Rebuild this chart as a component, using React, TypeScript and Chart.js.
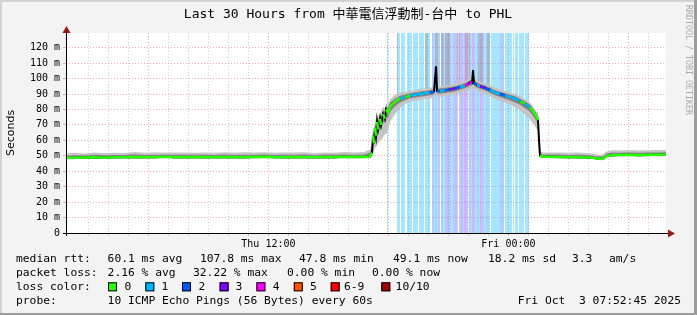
import { useEffect, useRef } from 'react';
import { Chart, registerables } from 'chart.js';

Chart.register(...registerables);

// ---------- data (x in hours since Thu 00:00, y in milliseconds) ----------
const START_H = 1.879; // Thu 01:52:45
const END_H = 31.879; // Fri 07:52:45
const Y_MAX = 129.5;

const xLabelHours = [12, 24];
const xLabelTexts = ['Thu 12:00', 'Fri 00:00'];
const yLabelValues = [0, 10, 20, 30, 40, 50, 60, 70, 80, 90, 100, 110, 120];

const times = [
  1.88, 2.3, 2.8, 3.3, 3.8, 4.3, 4.8, 5.3, 5.8, 6.3,
  6.8, 7.3, 7.8, 8.3, 8.8, 9.3, 9.8, 10.3, 10.8, 11.3,
  11.8, 12.3, 12.8, 13.3, 13.8, 14.3, 14.8, 15.3, 15.8, 16.3,
  16.8, 17.08,
  17.18, 17.23, 17.28, 17.33, 17.38, 17.43, 17.48, 17.58, 17.63, 17.73,
  17.83, 17.88, 17.98, 18.08,
  18.33, 18.58, 18.83, 19.08, 19.33, 19.58, 19.83, 20.08, 20.28, 20.38,
  20.43, 20.58, 20.83, 21.08, 21.33, 21.58, 21.83, 21.98, 22.08, 22.18,
  22.23, 22.28, 22.43, 22.58, 22.83, 23.08, 23.33, 23.58, 23.83, 24.08,
  24.33, 24.58, 24.83, 25.08, 25.28, 25.43, 25.48, 25.53, 25.58, 25.73,
  26.0, 26.5, 27.0, 27.5, 28.0, 28.3, 28.6, 28.75, 28.9, 29.2,
  29.5, 30.0, 30.5, 31.0, 31.5, 31.88,
];

const median = [
  48.6, 48.8, 48.9, 49.0, 48.8, 49.0, 49.1, 49.2, 49.0, 49.1,
  49.3, 49.1, 49.0, 49.2, 49.1, 49.0, 49.2, 49.1, 49.0, 49.2,
  49.3, 49.1, 49.0, 49.2, 49.1, 49.0, 49.2, 49.1, 49.3, 49.2,
  49.2, 49.6,
  52, 63, 58, 68, 63, 72, 67, 74, 70, 77,
  74, 80, 78, 82,
  85, 87, 88, 89, 89.5, 90, 90.5, 91, 91.5, 108,
  92, 92, 92.5, 93, 93.5, 94.5, 95.5, 96.5, 97.5, 97,
  105.5, 97, 96, 95, 94, 92.5, 91, 90, 89, 88,
  87, 85.5, 83.5, 81.5, 78, 75, 73, 60, 50, 49.3,
  49.3, 49.2, 49.0, 49.1, 48.9, 48.5, 48.0, 48.2, 49.8, 50.4,
  50.5, 50.6, 50.4, 50.7, 50.6, 50.8,
];

const medianLoss = [
  0, 0, 0, 0, 0, 0, 0, 0, 0, 0,
  0, 0, 0, 0, 0, 0, 0, 0, 0, 0,
  0, 0, 0, 0, 0, 0, 0, 0, 0, 0,
  0, 0,
  0, 0, 0, 0, 0, 0, 0, 0, 0, 0,
  0, 0, 0, 0,
  0, 1, 0, 1, 1, 1, 1, 2, 1, 1,
  2, 1, 2, 3, 2, 1, 4, 3, 4, 3,
  2, 2, 1, 3, 2, 1, 1, 2, 1, 1,
  1, 0, 1, 0, 0, 0, 0, 0, 0, 0,
  0, 0, 0, 0, 0, 0, 0, 0, 0, 0,
  0, 0, 0, 0, 0, 0,
];

const smokeDown = [
  0.8, 0.9, 0.7, 1.0, 0.8, 0.9, 0.8, 1.1, 0.7, 0.9,
  0.8, 1.0, 0.9, 0.8, 1.0, 0.7, 0.9, 0.8, 1.0, 0.9,
  0.8, 0.7, 1.0, 0.9, 0.8, 1.1, 0.9, 0.8, 0.9, 1.0,
  0.8, 1.2,
  2.5, 9, 6, 12, 8, 14, 9, 14, 10, 15,
  10, 16, 12, 10,
  8, 6, 4.5, 4, 3.5, 4, 3.5, 4, 3.5, 16,
  3.5, 4, 3.5, 4, 3.5, 4, 3.5, 4, 4, 3.5,
  12, 4, 3.5, 4, 3.5, 4, 4, 4.5, 4.5, 5,
  5.5, 6, 7, 8, 8, 8, 7, 8, 1, 0.8,
  0.8, 0.9, 0.8, 1.0, 0.9, 0.8, 0.7, 0.9, 0.8, 0.9,
  1.0, 0.8, 0.9, 1.0, 0.8, 0.9,
];

const smokeUp = [
  2.8, 3.1, 2.6, 3.2, 2.9, 3.0, 2.7, 3.3, 2.9, 3.1,
  2.8, 3.0, 3.2, 2.7, 3.0, 2.9, 3.1, 2.8, 3.3, 2.9,
  3.0, 2.8, 3.1, 2.9, 3.2, 2.8, 3.0, 2.9, 3.1, 3.0,
  3.3, 4.5,
  6, 6, 8, 6, 8, 5, 7, 5, 7, 5,
  6, 4, 5, 4.5,
  4.5, 4, 3.5, 3, 3, 3.5, 3, 3, 3, 3,
  3, 3, 3, 3, 3, 3, 3, 3, 3, 3,
  3, 3, 3, 3, 3, 3, 3, 3, 3, 3,
  3, 3, 3, 3, 3, 3, 6, 3, 2.8, 2.8,
  2.8, 3.0, 2.9, 3.1, 2.8, 2.7, 2.6, 2.9, 3.0, 3.2,
  2.9, 3.1, 3.0, 2.8, 3.1, 2.9,
];

const coreDown = [
  0.3, 0.4, 0.3, 0.4, 0.3, 0.3, 0.3, 0.4, 0.3, 0.3,
  0.3, 0.4, 0.3, 0.3, 0.4, 0.3, 0.3, 0.3, 0.4, 0.3,
  0.3, 0.3, 0.4, 0.3, 0.3, 0.4, 0.3, 0.3, 0.3, 0.4,
  0.3, 0.5,
  1, 3, 2, 4, 3, 5, 3, 5, 3, 5,
  3, 5, 4, 3.5,
  3, 2.5, 2, 1.8, 1.8, 1.8, 1.8, 1.8, 1.8, 6,
  1.8, 1.8, 1.8, 1.8, 1.8, 1.8, 1.8, 1.8, 1.8, 1.8,
  5, 1.8, 1.8, 1.8, 1.8, 1.8, 1.8, 2, 2, 2.2,
  2.5, 2.5, 2.8, 3, 3, 3, 3, 3, 0.4, 0.3,
  0.3, 0.3, 0.3, 0.4, 0.3, 0.3, 0.3, 0.3, 0.3, 0.4,
  0.3, 0.3, 0.3, 0.4, 0.3, 0.3,
];

const coreUp = [
  1.4, 1.6, 1.3, 1.7, 1.5, 1.5, 1.4, 1.8, 1.5, 1.6,
  1.4, 1.5, 1.7, 1.4, 1.6, 1.5, 1.6, 1.4, 1.7, 1.5,
  1.6, 1.4, 1.6, 1.5, 1.7, 1.4, 1.6, 1.5, 1.6, 1.5,
  1.7, 2.5,
  3, 3, 4, 3, 4, 3, 3.5, 3, 3.5, 3,
  3, 2.5, 2.5, 2.5,
  2, 1.8, 1.6, 1.5, 1.5, 1.6, 1.5, 1.5, 1.5, 1.6,
  1.5, 1.5, 1.5, 1.5, 1.5, 1.5, 1.5, 1.4, 1.4, 1.4,
  1.4, 1.4, 1.5, 1.5, 1.5, 1.5, 1.5, 1.5, 1.5, 1.5,
  1.5, 1.5, 1.6, 1.6, 1.6, 1.4, 1.4, 3, 1.5, 1.4,
  1.5, 1.6, 1.5, 1.6, 1.4, 1.4, 1.3, 1.5, 1.6, 1.7,
  1.5, 1.6, 1.5, 1.4, 1.6, 1.5,
];

// loss background periods: [start hour, end hour, loss level]
const lossBars: [number, number, number][] = [
  [17.93, 17.98, 1],
  [18.43, 18.58, 1],
  [18.63, 18.83, 1],
  [18.93, 19.18, 1],
  [19.23, 19.48, 1],
  [19.53, 19.78, 1],
  [19.83, 20.08, 1],
  [20.18, 20.28, 2],
  [20.28, 20.33, 1],
  [20.33, 20.43, 2],
  [20.43, 20.48, 1],
  [20.48, 20.58, 2],
  [20.63, 20.73, 2],
  [20.73, 20.83, 1],
  [20.83, 20.93, 2],
  [20.93, 21.03, 3],
  [21.03, 21.13, 2],
  [21.13, 21.23, 1],
  [21.23, 21.33, 2],
  [21.33, 21.43, 3],
  [21.43, 21.48, 1],
  [21.53, 21.63, 2],
  [21.63, 21.73, 3],
  [21.73, 21.78, 1],
  [21.78, 21.93, 3],
  [21.93, 21.98, 2],
  [22.03, 22.13, 2],
  [22.13, 22.18, 1],
  [22.18, 22.28, 3],
  [22.28, 22.33, 2],
  [22.33, 22.43, 1],
  [22.43, 22.53, 2],
  [22.53, 22.58, 1],
  [22.58, 22.68, 3],
  [22.68, 22.78, 2],
  [22.78, 22.88, 1],
  [22.88, 22.98, 2],
  [22.98, 23.08, 1],
  [23.13, 23.58, 1],
  [23.58, 23.78, 2],
  [23.83, 24.18, 1],
  [24.23, 24.28, 1],
  [24.33, 24.48, 1],
  [24.53, 24.78, 1],
  [24.83, 25.03, 1],
];

// periods where the smoke reaches above the top: [start, end, lower value]
const tallSmoke: [number, number, number][] = [
  [18.43, 18.48, 86],
  [19.83, 19.98, 91],
  [20.33, 20.48, 93],
  [20.63, 20.78, 93],
  [20.83, 21.08, 94],
  [21.43, 21.58, 95],
  [21.83, 22.08, 98],
  [22.48, 22.73, 97],
  [22.93, 23.08, 94],
];

const TITLE = 'Last 30 Hours from 中華電信浮動制-台中 to PHL';
const rowLabels = ['median rtt:', 'packet loss:', 'loss color:', 'probe:'];
const rttTexts = ['60.1 ms avg', '107.8 ms max', '47.8 ms min', '49.1 ms now', '18.2 ms sd', '3.3', 'am/s'];
const lossTexts = ['2.16 % avg', '32.22 % max', '0.00 % min', '0.00 % now'];
const lossLevelNames = ['0', '1', '2', '3', '4', '5', '6-9', '10/10'];
const probeText = '10 ICMP Echo Pings (56 Bytes) every 60s';
const dateText = 'Fri Oct  3 07:52:45 2025';

// ---------- styles / layout ----------
const W = 697;
const H = 315;
const LOSS_COLORS = ['#26ff00', '#00b8ff', '#0059ff', '#7e00ff', '#ff00ff', '#ff5500', '#ff0000', '#a10000'];
const LOSS_BG = [
  'rgba(0,0,0,0)',
  'rgba(0,184,255,0.35)',
  'rgba(0,89,255,0.3)',
  'rgba(126,0,255,0.3)',
  'rgba(255,0,255,0.3)',
];
const MAJOR = 'rgba(240,130,130,0.65)';
const MINOR = 'rgba(175,175,175,0.6)';
const MONO = '"DejaVu Sans Mono", "Noto Sans CJK TC", monospace';
const rttX = [107.6, 200, 299, 393, 488, 572, 609];
const lossX = [107.6, 193, 287, 372];
const boxX = [108, 145.3, 182, 219.6, 256.4, 293.8, 330.7, 381.3];
const boxLabelX = [124.4, 161.5, 198.5, 235.5, 272.7, 310, 344, 395.6];
const rowY = [259.3, 273.3, 287.3, 301];

const rrdPlugin = {
  id: 'rrd',
  beforeDraw(chart: any) {
    const { ctx, chartArea: a } = chart;
    ctx.save();
    ctx.fillStyle = '#f3f3f3';
    ctx.fillRect(0, 0, W, H);
    ctx.fillStyle = '#d2d2d2';
    ctx.fillRect(0, 0, W, 2);
    ctx.fillRect(0, 0, 2, H);
    ctx.fillStyle = '#9c9c9c';
    ctx.fillRect(0, H - 2, W, 2);
    ctx.fillRect(W - 3, 0, 3, H);
    ctx.fillStyle = '#ffffff';
    ctx.fillRect(a.left, a.top, a.right - a.left, a.bottom - a.top);
    ctx.restore();
  },
  beforeDatasetsDraw(chart: any) {
    const { ctx, chartArea: a } = chart;
    const x = chart.scales.x;
    const y = chart.scales.y;
    ctx.save();
    for (const [s, e, l] of lossBars) {
      const x0 = Math.round(x.getPixelForValue(s));
      const x1 = Math.round(x.getPixelForValue(e));
      ctx.fillStyle = LOSS_BG[l];
      ctx.fillRect(x0, a.top, Math.max(1, x1 - x0), a.bottom - a.top);
    }
    for (const [s, e, v] of tallSmoke) {
      const x0 = Math.round(x.getPixelForValue(s));
      const x1 = Math.round(x.getPixelForValue(e));
      const yv = y.getPixelForValue(v);
      ctx.fillStyle = 'rgba(150,150,150,0.45)';
      ctx.fillRect(x0, a.top, Math.max(1, x1 - x0), yv - a.top);
    }
    ctx.restore();
  },
  afterDraw(chart: any) {
    const { ctx, chartArea: a } = chart;
    ctx.save();
    // axes
    ctx.strokeStyle = '#000';
    ctx.lineWidth = 1;
    ctx.beginPath();
    ctx.moveTo(a.left - 3, a.bottom + 0.5);
    ctx.lineTo(a.right + 3, a.bottom + 0.5);
    ctx.moveTo(a.left + 0.5, a.bottom + 3);
    ctx.lineTo(a.left + 0.5, a.top - 2);
    ctx.stroke();
    ctx.fillStyle = '#981818';
    ctx.beginPath();
    ctx.moveTo(a.left - 3.5, a.top);
    ctx.lineTo(a.left + 4.5, a.top);
    ctx.lineTo(a.left + 0.5, a.top - 7);
    ctx.closePath();
    ctx.fill();
    ctx.beginPath();
    ctx.moveTo(a.right + 2, a.bottom - 3.5);
    ctx.lineTo(a.right + 2, a.bottom + 4.5);
    ctx.lineTo(a.right + 9, a.bottom + 0.5);
    ctx.closePath();
    ctx.fill();

    // title
    ctx.fillStyle = '#000';
    ctx.textBaseline = 'middle';
    ctx.textAlign = 'center';
    ctx.font = '13px ' + MONO;
    ctx.fillText(TITLE, 348, 15);

    // y axis label
    ctx.save();
    ctx.translate(11, 133);
    ctx.rotate(-Math.PI / 2);
    ctx.font = '11px "DejaVu Sans", sans-serif';
    ctx.fillText('Seconds', 0, 0);
    ctx.restore();

    // watermark
    ctx.save();
    ctx.translate(688, 5);
    ctx.rotate(Math.PI / 2);
    ctx.textAlign = 'left';
    ctx.fillStyle = '#aaaaaa';
    ctx.font = '8.3px ' + MONO;
    ctx.fillText('RRDTOOL / TOBI OETIKER', 0, 0);
    ctx.restore();

    // legend
    ctx.textAlign = 'left';
    ctx.font = '11.3px ' + MONO;
    ctx.fillStyle = '#000';
    rowLabels.forEach((t, i) => ctx.fillText(t, 16, rowY[i]));
    rttTexts.forEach((t, i) => ctx.fillText(t, rttX[i], rowY[0]));
    lossTexts.forEach((t, i) => ctx.fillText(t, lossX[i], rowY[1]));
    lossLevelNames.forEach((t, i) => {
      ctx.fillStyle = LOSS_COLORS[i];
      ctx.fillRect(boxX[i], rowY[2] - 5, 9, 9);
      ctx.strokeStyle = '#000';
      ctx.strokeRect(boxX[i] + 0.5, rowY[2] - 4.5, 8, 8);
      ctx.fillStyle = '#000';
      ctx.fillText(t, boxLabelX[i], rowY[2]);
    });
    ctx.fillText(probeText, 107.6, rowY[3]);
    ctx.textAlign = 'right';
    ctx.fillText(dateText, 681, rowY[3]);
    ctx.restore();
  },
};

function series(sign: number, arr: number[] | null) {
  return times.map((t, i) => ({ x: t, y: arr ? median[i] + sign * arr[i] : median[i] }));
}

export default function App() {
  const ref = useRef<HTMLCanvasElement>(null);
  useEffect(() => {
    if (!ref.current) return;
    const chart = new Chart(ref.current, {
      type: 'line',
      data: {
        datasets: [
          { data: series(-1, smokeDown), borderWidth: 0, pointRadius: 0, fill: false, order: 6 },
          { data: series(1, smokeUp), borderWidth: 0, pointRadius: 0, fill: '-1', backgroundColor: '#c4c4c4', order: 5 },
          { data: series(-1, coreDown), borderWidth: 0, pointRadius: 0, fill: false, order: 4 },
          { data: series(1, coreUp), borderWidth: 0, pointRadius: 0, fill: '-1', backgroundColor: '#858585', order: 3 },
          { data: series(1, null), borderWidth: 2, borderColor: '#000', pointRadius: 0, fill: false, order: 2 },
          {
            data: series(1, null),
            borderWidth: 2.5,
            borderColor: LOSS_COLORS[0],
            pointRadius: 0,
            fill: false,
            order: 1,
            segment: {
              borderColor: (c: any) => {
                const d = Math.abs(median[c.p1DataIndex] - median[c.p0DataIndex]);
                if (d > 5.5) return 'rgba(0,0,0,0)';
                return LOSS_COLORS[medianLoss[c.p0DataIndex]];
              },
            },
          },
        ],
      },
      options: {
        responsive: false,
        animation: false,
        devicePixelRatio: 1,
        events: [],
        layout: { padding: { top: 33, right: 31, bottom: 0, left: 0 } },
        plugins: { legend: { display: false }, tooltip: { enabled: false }, title: { display: false } },
        elements: { line: { tension: 0 }, point: { radius: 0 } },
        scales: {
          x: {
            type: 'linear',
            min: START_H,
            max: END_H,
            afterBuildTicks: (s: any) => {
              const t = [];
              for (let h = Math.ceil(START_H) + 1; h <= Math.floor(END_H); h++) t.push({ value: h });
              s.ticks = t;
            },
            afterFit: (s: any) => {
              s.height = 82;
            },
            grid: {
              color: (c: any) => (c.tick && c.tick.value % 6 === 0 ? MAJOR : MINOR),
              lineWidth: 1,
              tickLength: 3,
              tickBorderDash: [],
            },
            border: { display: false, dash: [1, 2] },
            ticks: {
              autoSkip: false,
              maxRotation: 0,
              padding: 2,
              color: '#000',
              font: { family: MONO, size: 10 },
              callback: (v: any) => {
                const k = xLabelHours.indexOf(Number(v));
                return k >= 0 ? xLabelTexts[k] : '';
              },
            },
          },
          y: {
            type: 'linear',
            min: 0,
            max: Y_MAX,
            afterBuildTicks: (s: any) => {
              const t = [];
              for (let v = 0; v <= 125; v += 5) t.push({ value: v });
              s.ticks = t;
            },
            afterFit: (s: any) => {
              s.width = 66;
            },
            grid: {
              color: (c: any) => (c.tick && c.tick.value % 10 === 0 ? MAJOR : MINOR),
              lineWidth: 1,
              tickLength: 3,
              tickBorderDash: [],
            },
            border: { display: false, dash: [1, 2] },
            ticks: {
              padding: 3,
              color: '#000',
              font: { family: MONO, size: 10 },
              callback: (v: any) => {
                const n = Number(v);
                if (yLabelValues.indexOf(n) < 0) return '';
                return n === 0 ? '0' : n + ' m';
              },
            },
          },
        },
      },
      plugins: [rrdPlugin],
    } as any);
    return () => chart.destroy();
  }, []);
  return (
    <div style={{ position: 'absolute', left: 0, top: 0, width: W, height: H }}>
      <canvas ref={ref} width={W} height={H} style={{ display: 'block', width: W, height: H }} />
    </div>
  );
}
